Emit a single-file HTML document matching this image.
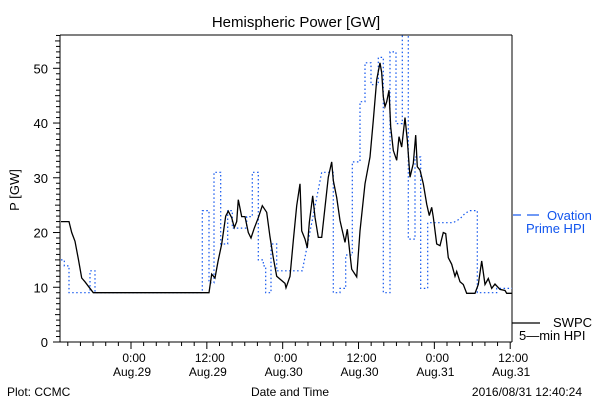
<!DOCTYPE html>
<html><head><meta charset="utf-8"><style>
body{margin:0;background:#fff}
svg{display:block;font-family:"Liberation Sans",sans-serif}
</style></head><body>
<svg id="chart" width="600" height="400" viewBox="0 0 600 400">
<rect width="600" height="400" fill="#fff"/>
<text x="296" y="27" font-size="15" text-anchor="middle">Hemispheric Power [GW]</text>
<text x="19" y="190" font-size="13" text-anchor="middle" transform="rotate(-90 19 190)">P [GW]</text>
<text x="290" y="396" font-size="12" text-anchor="middle">Date and Time</text>
<text x="7" y="396" font-size="12">Plot: CCMC</text>
<text x="582" y="396" font-size="12" text-anchor="end">2016/08/31 12:40:24</text>
<g id="axes"></g>
<defs><clipPath id="pc"><rect x="60" y="35" width="452" height="307"/></clipPath></defs>
<g clip-path="url(#pc)">
<path id="ov" fill="none" stroke="#1155ee" stroke-width="1.2" stroke-dasharray="1.5,2.5"/>
<path id="sw" fill="none" stroke="#000" stroke-width="1.3"/>
</g>
<g>
<line x1="513" y1="215" x2="521" y2="215" stroke="#1155ee" stroke-width="1.2"/>
<line x1="527" y1="215" x2="539" y2="215" stroke="#1155ee" stroke-width="1.2"/>
<text x="547" y="220" font-size="13" fill="#1155ee">Ovation</text>
<text x="526" y="233" font-size="13" fill="#1155ee">Prime HPI</text>
</g>
<g>
<line x1="512" y1="323" x2="540" y2="323" stroke="#000" stroke-width="1.2"/>
<text x="553" y="327" font-size="13">SWPC</text>
<text x="519" y="340" font-size="13">5&#8212;min HPI</text>
</g>
</svg>
<script>
const swT=[-11.08,-9.81,-9.38,-8.86,-8.34,-7.80,-7.28,-6.76,-5.97,12.34,12.77,13.29,13.77,14.35,14.98,15.40,15.93,16.34,16.72,16.98,17.52,18.04,18.56,18.99,19.51,20.14,20.78,21.47,21.99,22.52,23.05,24.37,24.53,25.16,25.68,26.22,26.74,27.01,27.53,27.90,28.21,28.75,29.11,29.64,30.17,30.70,31.22,31.76,32.01,32.55,33.07,33.86,34.22,34.65,34.92,35.71,36.23,37.03,37.82,38.34,38.88,39.40,39.67,39.92,40.19,40.46,40.82,41.09,41.50,42.04,42.41,42.83,43.35,43.72,44.15,44.67,45.05,45.30,45.73,46.25,46.79,47.20,47.58,47.83,48.37,48.89,49.41,49.79,50.21,50.74,51.27,51.53,52.06,52.58,53.12,54.43,54.95,55.49,56.01,56.53,57.07,57.59,58.39,59.18,59.45,60.28];
const swV=[22,22,20,18.4,15.2,11.7,11,10.2,9,9,12.4,11.7,14.7,17.9,23,23.9,22.7,20.9,22,26,22.9,22.9,20,19,20.8,22.7,24.9,23.7,19.2,15.4,12,10.7,9.9,12,18.5,24.9,28.9,20.3,18.8,17.2,21.8,26.7,22.8,19.1,19.1,24.6,30.1,32.9,29.5,26.4,22.2,18.2,20.6,16,13.3,11.9,20.3,28.9,33.8,40.5,47.9,51,49.2,44.8,43,43.9,46,39.3,35,33.2,37.5,35.6,41,36.9,30.1,32.6,37.8,32,31.4,28.9,25.2,23.1,24.6,22.8,17.9,17.6,20,19.8,15.4,14.2,12,12.9,11,10.5,8.9,8.9,10.5,14.8,10.5,11.6,9.8,10.6,9.6,9.4,8.9,8.9];
const ovT=[-11.08,-10.55,-10.55,-9.81,-9.81,-6.49,-6.49,-5.70,-5.70,11.28,11.28,12.34,12.34,13.13,13.13,14.19,14.19,15.30,15.30,16.03,16.03,18.31,18.31,19.19,19.19,20.14,20.14,20.93,20.93,21.31,21.31,22.15,22.15,23.05,23.05,27.10,30.17,32.01,32.01,33.07,33.07,33.97,33.97,35.02,35.02,36.23,36.23,37.03,37.03,37.97,37.97,39.13,39.13,39.92,39.92,40.98,40.98,41.93,41.93,42.93,42.93,43.88,43.88,44.94,44.94,45.84,45.84,46.95,46.95,51.00,52.06,52.85,53.64,54.80,54.80,57.87,57.87,60.28];
const ovV=[15,15,13.9,13.9,9,9,13,13,9,9,24,24,10.8,10.8,31,31,17.9,17.9,24,24,20.8,20.8,22.9,22.9,31,31,15,15,13.9,13.9,9,9,17.9,17.9,13,13,31,31,9,9,9.8,9.8,15.9,15.9,32.9,32.9,43.9,43.9,51,51,47,47,52,52,9,9,53,53,39.9,39.9,60,60,18.8,18.8,33.8,33.8,9.8,9.8,21.8,21.8,22.5,23.5,24,24,9,9,9.8,9.8];
const yTicks=[0,10,20,30,40,50];
const xTickHours=[0,12,24,36,48,60];
const xTickTime=["0:00","12:00","0:00","12:00","0:00","12:00"];
const xTickDate=["Aug.29","Aug.29","Aug.30","Aug.30","Aug.31","Aug.31"];
const NS="http://www.w3.org/2000/svg";
const X=h=>131+h*6.32;
const Y=v=>342-v*5.474;
function path(T,V){return T.map((t,i)=>(i?"L":"M")+X(t).toFixed(1)+","+Y(V[i]).toFixed(1)).join("");}
document.getElementById("sw").setAttribute("d",path(swT,swV));
document.getElementById("ov").setAttribute("d",path(ovT,ovV));
const ax=document.getElementById("axes");
function mk(tag,attrs,parent){const e=document.createElementNS(NS,tag);for(const k in attrs)e.setAttribute(k,attrs[k]);(parent||ax).appendChild(e);return e;}
let l;
l=mk("line",{x1:60,y1:35,x2:60,y2:342,stroke:"#000"});


l=mk("line",{x1:60,y1:342,x2:512,y2:342,stroke:"#000"});


l=mk("line",{x1:60,y1:35,x2:512,y2:35,stroke:"#000"});


l=mk("line",{x1:512,y1:35,x2:512,y2:342,stroke:"#000"});


for(let v=0;v<=56;v++){
  const len=v%10===0?7:(v%5===0?5:4);
  l=mk("line",{x1:60-len,y1:Y(v),x2:60,y2:Y(v),stroke:"#000"});
  
  
}
yTicks.forEach(v=>{
  const t=mk("text",{x:48,y:Y(v)+5,"font-size":13,"text-anchor":"end"});
  t.textContent=v;
  
  
});
for(let h=-10;h<=60;h+=2){
  const len=h%12===0?7:4;
  l=mk("line",{x1:X(h),y1:342,x2:X(h),y2:342+len,stroke:"#000"});
  
  
}
xTickHours.forEach((h,i)=>{
  const t1=mk("text",{x:X(h)+3,y:362,"font-size":12,"text-anchor":"middle"});
  t1.textContent=xTickTime[i];
  
  
  const t2=mk("text",{x:X(h)+1,y:376,"font-size":12,"text-anchor":"middle"});
  t2.textContent=xTickDate[i];
  
  
});
</script>
</body></html>
